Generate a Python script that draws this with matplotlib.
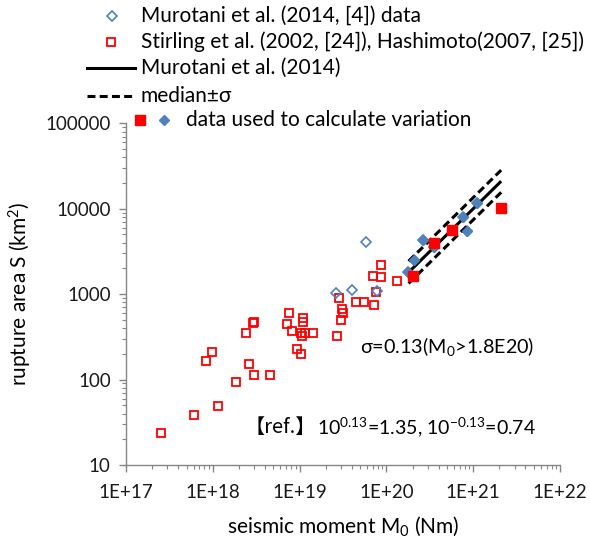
import matplotlib
matplotlib.use("Agg")
import matplotlib.pyplot as plt
from matplotlib.lines import Line2D
import numpy as np

plt.rcParams['font.family'] = ['Lato', 'Noto Sans CJK JP', 'DejaVu Sans']
plt.rcParams['mathtext.fontset'] = 'custom'
plt.rcParams['mathtext.rm'] = 'Lato'
plt.rcParams['mathtext.it'] = 'Lato:italic'
plt.rcParams['mathtext.bf'] = 'Lato:bold'

# ---------------- data ----------------
# Stirling et al. (2002), Hashimoto (2007): seismic moment (Nm), rupture area (km2)
stirling_M0 = [2.55e17, 6.0e17, 1.16e18, 8.35e17, 9.67e17, 1.87e18, 2.41e18, 2.61e18,
               2.90e18, 2.98e18, 3.02e18, 4.56e18, 7.60e18, 7.10e18, 8.17e18, 9.26e18,
               1.03e19, 1.10e19, 1.10e19, 1.05e19, 1.15e19, 1.07e19, 1.43e19, 2.67e19,
               2.86e19, 3.05e19, 3.16e19, 3.00e19, 4.47e19, 5.56e19, 7.26e19, 7.59e19,
               7.10e19, 8.78e19, 8.67e19, 1.31e20]
stirling_S = [23.7, 38.8, 48.6, 166, 209, 94.4, 352, 153,
              454, 472, 114, 114, 597, 445, 366, 226,
              201, 522, 477, 349, 349, 324, 351, 324,
              897, 662, 594, 492, 805, 805, 748, 1062,
              1648, 1570, 2198, 1430]

# Murotani et al. (2014) data (open diamonds)
murotani_M0 = [2.65e19, 4.04e19, 7.80e19, 5.82e19,
               1.79e20, 2.09e20, 2.66e20, 3.56e20, 7.69e20, 8.41e20, 1.12e21]
murotani_S = [1026, 1119, 1083, 4085,
              1803, 2494, 4315, 3524, 7943, 5500, 11590]

# data used to calculate variation
used_diamond_M0 = [1.79e20, 2.09e20, 2.66e20, 3.56e20, 7.69e20, 8.41e20, 1.12e21]
used_diamond_S = [1803, 2494, 4315, 3524, 7943, 5500, 11590]
used_square_M0 = [2.04e20, 3.56e20, 5.74e20, 2.09e21]
used_square_S = [1648, 3927, 5675, 10300]

# Murotani et al. (2014) relation line and sigma
line_M0 = [1.8e20, 2.1e21]
line_S = [1800, 21000]
sigma = 0.13

xtick_vals = [1e17, 1e18, 1e19, 1e20, 1e21, 1e22]
xtick_labels = ['1E+17', '1E+18', '1E+19', '1E+20', '1E+21', '1E+22']
ytick_vals = [10, 100, 1000, 10000, 100000]
ytick_labels = ['10', '100', '1000', '10000', '100000']

legend_labels = ['Murotani et al. (2014, [4]) data',
                 'Stirling et al. (2002, [24]), Hashimoto(2007, [25])',
                 'Murotani et al. (2014)',
                 'median\u00b1\u03c3',
                 'data used to calculate variation']

# ---------------- figure ----------------
W, H = 590, 543
fig = plt.figure(figsize=(W / 100, H / 100), dpi=100)
ax = fig.add_axes([126 / W, 1 - 465 / H, (560 - 126) / W, (465 - 123.3) / H])

RED = '#FF0000'
BLUE = '#4F81BD'
GRAY = '#868686'
TXT = 15.0

ax.plot(stirling_M0, stirling_S, ls='none', marker='s', ms=6.2, mfc='none',
        mec=RED, mew=1.3, zorder=3)
ax.plot(murotani_M0, murotani_S, ls='none', marker='D', ms=5.4, mfc='none',
        mec=BLUE, mew=1.2, zorder=3)

lx = np.array(line_M0)
ly = np.array(line_S)
ax.plot(lx, ly, color='black', lw=2.2, zorder=4, solid_capstyle='butt')
ax.plot(lx, ly * 10 ** sigma, color='black', lw=2.2, ls=(0, (2.6, 1.4)), zorder=4)
ax.plot(lx, ly * 10 ** (-sigma), color='black', lw=2.2, ls=(0, (2.6, 1.4)), zorder=4)

ax.plot(used_diamond_M0, used_diamond_S, ls='none', marker='D', ms=5.6, mfc=BLUE,
        mec=BLUE, zorder=5)
ax.plot(used_square_M0, used_square_S, ls='none', marker='s', ms=7.0, mfc=RED,
        mec=RED, zorder=6)

ax.set_xscale('log')
ax.set_yscale('log')
ax.set_xlim(1e17, 1e22)
ax.set_ylim(10, 100000)
ax.set_xticks(xtick_vals)
ax.set_xticklabels(xtick_labels)
ax.set_yticks(ytick_vals)
ax.set_yticklabels(ytick_labels)
ax.xaxis.set_minor_locator(matplotlib.ticker.LogLocator(base=10, subs=np.arange(2, 10)))
ax.yaxis.set_minor_locator(matplotlib.ticker.LogLocator(base=10, subs=np.arange(2, 10)))
ax.xaxis.set_minor_formatter(matplotlib.ticker.NullFormatter())
ax.yaxis.set_minor_formatter(matplotlib.ticker.NullFormatter())

for s in ['top', 'right']:
    ax.spines[s].set_visible(False)
for s in ['left', 'bottom']:
    ax.spines[s].set_color(GRAY)
    ax.spines[s].set_linewidth(1.0)
ax.tick_params(which='major', direction='out', length=5, width=1, color=GRAY,
               labelsize=13.5, labelcolor='#1a1a1a')
ax.tick_params(axis='x', which='major', pad=9)
ax.tick_params(axis='y', which='major', pad=6)
ax.tick_params(which='minor', direction='out', length=3, width=0.8, color=GRAY)

ax.set_xlabel('seismic moment M$_0$ (Nm)', fontsize=15, labelpad=9)
ax.set_ylabel('rupture area S (km$^2$)', fontsize=15, labelpad=8)

ax.text((360 - 126) / 434, (465 - 347) / 341.7, '\u03c3=0.13(M$_0$>1.8E20)',
        transform=ax.transAxes, fontsize=14.2, va='center', ha='left')
ax.text((316 - 126) / 434, (465 - 427) / 341.7, '\u3010ref.\u3011',
        transform=ax.transAxes, fontsize=14.5, va='center', ha='right',
        family=['Noto Sans CJK JP'])
ax.text((317 - 126) / 434, (465 - 427) / 341.7,
        '10$^{0.13}$=1.35, 10$^{-0.13}$=0.74',
        transform=ax.transAxes, fontsize=14.0, va='center', ha='left')

# ---------------- legend (manual, above plot) ----------------
def fx(px):
    return px / W

def fy(py):
    return 1 - py / H

rows = [16, 42, 68, 96, 120]
fig.add_artist(Line2D([fx(112)], [fy(rows[0])], ls='none', marker='D', ms=5.4,
                      mfc='none', mec=BLUE, mew=1.2, transform=fig.transFigure))
fig.add_artist(Line2D([fx(111)], [fy(rows[1])], ls='none', marker='s', ms=6.2,
                      mfc='none', mec=RED, mew=1.3, transform=fig.transFigure))
fig.add_artist(Line2D([fx(87), fx(135)], [fy(rows[2])] * 2, color='black', lw=2.2,
                      transform=fig.transFigure))
fig.add_artist(Line2D([fx(87), fx(135)], [fy(rows[3])] * 2, color='black', lw=2.2,
                      ls=(0, (2.6, 1.4)), transform=fig.transFigure))
fig.add_artist(Line2D([fx(140)], [fy(rows[4])], ls='none', marker='s', ms=7.0,
                      mfc=RED, mec=RED, transform=fig.transFigure))
fig.add_artist(Line2D([fx(164)], [fy(rows[4])], ls='none', marker='D', ms=5.6,
                      mfc=BLUE, mec=BLUE, transform=fig.transFigure))
for i, lab in enumerate(legend_labels):
    x0 = 186 if i == 4 else 141
    fig.text(fx(x0), fy(rows[i]), lab, fontsize=TXT, va='center', ha='left',
             family=['Lato', 'DejaVu Sans'])

fig.savefig('out.png', dpi=100)
